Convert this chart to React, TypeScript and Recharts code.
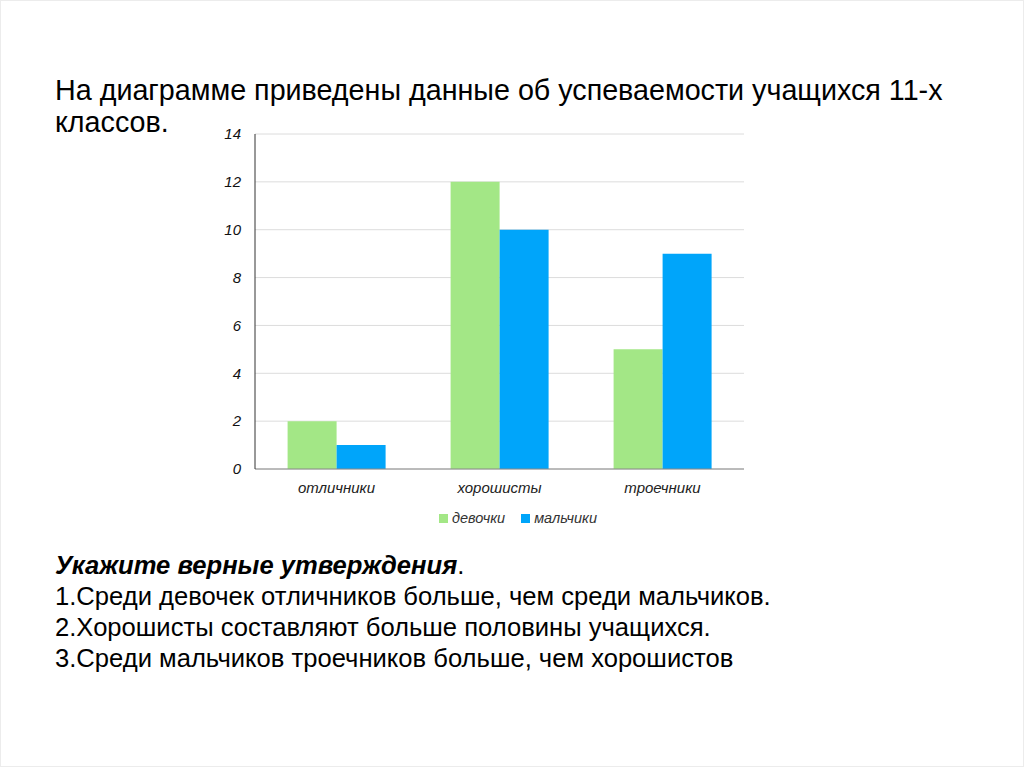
import React from "react";
import {
  BarChart,
  Bar,
  XAxis,
  YAxis,
  CartesianGrid,
  Legend,
} from "recharts";

const categories = ["отличники", "хорошисты", "троечники"];
const girls = [2, 12, 5];
const boys = [1, 10, 9];
const yTicks = [0, 2, 4, 6, 8, 10, 12, 14];

const data = categories.map((name, i) => ({
  name,
  girls: girls[i],
  boys: boys[i],
}));

const font = '"Liberation Sans", Arial, sans-serif';

export default function App() {
  return (
    <div
      style={{
        position: "absolute",
        left: 0,
        top: 0,
        width: 1024,
        height: 767,
        boxSizing: "border-box",
        border: "1px solid #ececec",
        background: "#fff",
        fontFamily: font,
        color: "#000",
      }}
    >
      <div
        style={{
          position: "absolute",
          left: 54,
          top: 73,
          fontSize: 28.7,
          lineHeight: "32px",
          width: 960,
          whiteSpace: "nowrap",
        }}
      >
        На диаграмме приведены данные об успеваемости учащихся 11-х
        <br />
        классов.
      </div>

      <div style={{ position: "absolute", left: 200, top: 120 }}>
        <BarChart
          width={560}
          height={420}
          data={data}
          margin={{ top: 13, right: 17, left: 0, bottom: 0 }}
          barCategoryGap="20%"
          barGap={0}
        >
          <CartesianGrid vertical={false} stroke="#dcdcdc" />
          <XAxis
            dataKey="name"
            height={40}
            tickLine={false}
            tickSize={0}
            tickMargin={13}
            stroke="#888"
            tick={{ fill: "#222", fontSize: 15, fontStyle: "italic", fontFamily: font }}
          />
          <YAxis
            width={54}
            domain={[0, 14]}
            ticks={yTicks}
            interval={0}
            tickLine={false}
            tickSize={0}
            tickMargin={14}
            stroke="#333"
            tick={{ fill: "#111", fontSize: 15, fontStyle: "italic", fontFamily: font }}
          />
          <Legend
            verticalAlign="bottom"
            align="left"
            height={32}
            iconType="square"
            iconSize={9}
            wrapperStyle={{ paddingLeft: 238, boxSizing: "border-box" }}
            formatter={(value: string) => (
              <span
                style={{
                  color: "#333",
                  fontStyle: "italic",
                  fontSize: 14.5,
                  fontFamily: font,
                  marginRight: 6,
                }}
              >
                {value}
              </span>
            )}
          />
          <Bar dataKey="girls" name="девочки" fill="#a3e786" isAnimationActive={false} />
          <Bar dataKey="boys" name="мальчики" fill="#00a5fa" isAnimationActive={false} />
        </BarChart>
      </div>

      <div
        style={{
          position: "absolute",
          left: 54,
          top: 549,
          fontSize: 25.6,
          lineHeight: "31px",
          whiteSpace: "nowrap",
        }}
      >
        <div>
          <b>
            <i>Укажите верные утверждения</i>
          </b>
          .
        </div>
        <div>1.Среди девочек отличников больше, чем среди мальчиков.</div>
        <div>2.Хорошисты составляют больше половины учащихся.</div>
        <div>3.Среди мальчиков троечников больше, чем хорошистов</div>
      </div>
    </div>
  );
}
